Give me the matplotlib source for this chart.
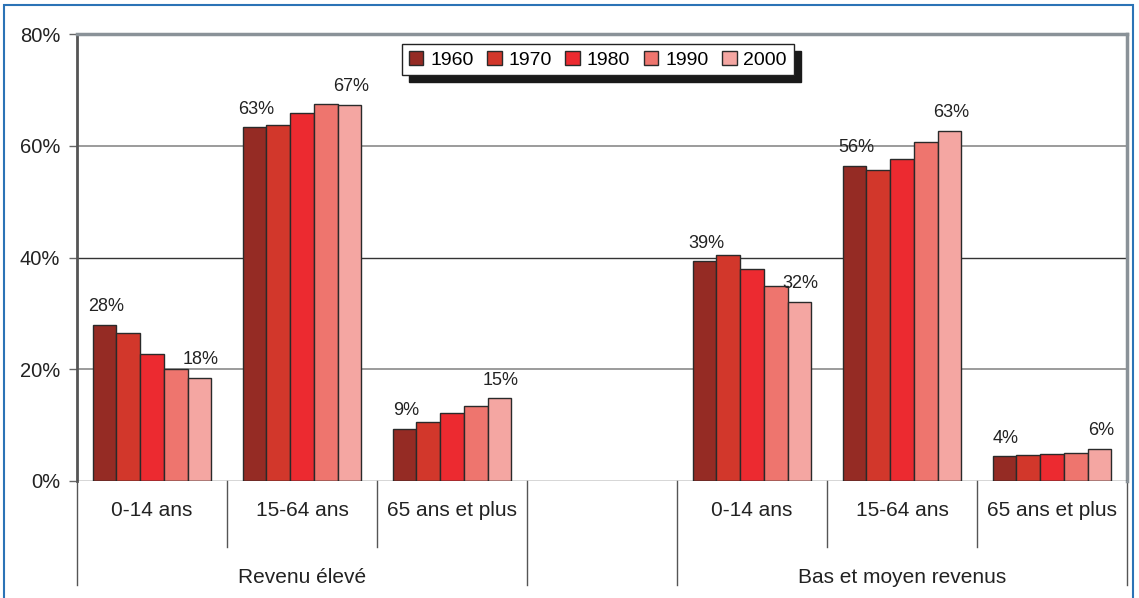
import matplotlib.pyplot as plt
import matplotlib.transforms as mtransforms
from matplotlib.patches import Rectangle
import numpy as np

plt.rcParams['font.family'] = ['Liberation Sans', 'DejaVu Sans']

# -----------------------------
# Data (share of population, %)
# -----------------------------
years = ["1960", "1970", "1980", "1990", "2000"]
age_groups = ["0-14 ans", "15-64 ans", "65 ans et plus"]
income_groups = ["Revenu élevé", "Bas et moyen revenus"]

high_income = {
    "1960": [28.0, 63.3, 9.3],
    "1970": [26.4, 63.7, 10.6],
    "1980": [22.8, 65.8, 12.2],
    "1990": [20.0, 67.4, 13.4],
    "2000": [18.4, 67.3, 14.8],
}
low_mid_income = {
    "1960": [39.3, 56.4, 4.4],
    "1970": [40.4, 55.7, 4.6],
    "1980": [38.0, 57.6, 4.9],
    "1990": [34.9, 60.6, 5.1],
    "2000": [32.0, 62.7, 5.8],
}

colors = ["#952b24", "#d2372b", "#ec2a30", "#ee756e", "#f4a6a2"]

# -----------------------------
# Figure
# -----------------------------
fig = plt.figure(figsize=(11.39, 5.98), dpi=100)
ax = fig.add_axes([77 / 1139, 117 / 598, 1050 / 1139, 447 / 598])

bw = 0.158
# slot positions: 3 age groups, empty slot, 3 age groups
slots = [np.array([0.5, 1.5, 2.5]), np.array([4.5, 5.5, 6.5])]
datasets = [high_income, low_mid_income]

for slot_x, data in zip(slots, datasets):
    for j, yr in enumerate(years):
        xs = slot_x + (j - 2) * bw
        ax.bar(xs, data[yr], width=bw, color=colors[j], edgecolor="#2a2a2a",
               linewidth=1.0, zorder=3, label=yr if slot_x[0] < 1 else None)
        # labels on first and last year only
        if j in (0, 4):
            for x, v in zip(xs, data[yr]):
                ax.annotate(f"{v:.0f}%", (x, v), xytext=(1, 7),
                            textcoords="offset points", ha="center",
                            va="bottom", fontsize=13, color="#222222")

ax.set_xlim(0, 7)
ax.set_ylim(0, 80)
ax.set_yticks([0, 20, 40, 60, 80])
ax.set_yticklabels(["0%", "20%", "40%", "60%", "80%"], fontsize=14.5,
                   color="#222222")
ax.tick_params(axis="y", length=6, width=1, color="#666666", pad=6)
ax.set_xticks([])

# gridlines
for g in [20, 60, 80]:
    ax.axhline(g, color="#8a8a8a", linewidth=1.2, zorder=1)
ax.axhline(40, color="#333333", linewidth=1.0, zorder=1)
ax.axhline(0, color="#333333", linewidth=1.0, zorder=4)

ax.spines["left"].set_color("#555555")
ax.spines["left"].set_linewidth(2)
ax.spines["right"].set_color("#8a9298")
ax.spines["right"].set_linewidth(2.5)
ax.spines["top"].set_color("#8a9298")
ax.spines["top"].set_linewidth(2.5)
ax.spines["bottom"].set_visible(False)

# -----------------------------
# Category axis below the plot
# -----------------------------
trans = mtransforms.blended_transform_factory(ax.transData, ax.transAxes)
for x in [1, 2, 5, 6]:
    ax.plot([x, x], [0, -0.148], transform=trans, color="#555555",
            linewidth=1, clip_on=False)
for x in [0, 3, 4, 7]:
    ax.plot([x, x], [0, -0.233], transform=trans, color="#555555",
            linewidth=1, clip_on=False)

for slot_x in slots:
    for x, name in zip(slot_x, age_groups):
        ax.text(x, -0.066, name, transform=trans, ha="center", va="center",
                fontsize=15, color="#222222")
for x, name in zip([1.5, 5.5], income_groups):
    ax.text(x, -0.216, name, transform=trans, ha="center", va="center",
            fontsize=15, color="#222222")

# legend
leg = ax.legend(loc="upper center", bbox_to_anchor=(0.496, 0.978), ncol=5,
                fontsize=14, frameon=True, fancybox=False,
                shadow={"color": "#1a1a1a", "alpha": 1, "ox": 5, "oy": -5},
                edgecolor="#222222", framealpha=1, handlelength=0.75,
                handleheight=0.75, handletextpad=0.35, columnspacing=0.7,
                borderpad=0.35, borderaxespad=0)
leg.get_frame().set_linewidth(1.0)

# blue frame around the figure
fig.patches.append(Rectangle((4 / 1139, -0.02), 1129 / 1139, 1.0 - 5 / 598 + 0.02,
                             transform=fig.transFigure, fill=False,
                             edgecolor="#2b73b6", linewidth=1.5))

fig.savefig("out.png", dpi=100)
